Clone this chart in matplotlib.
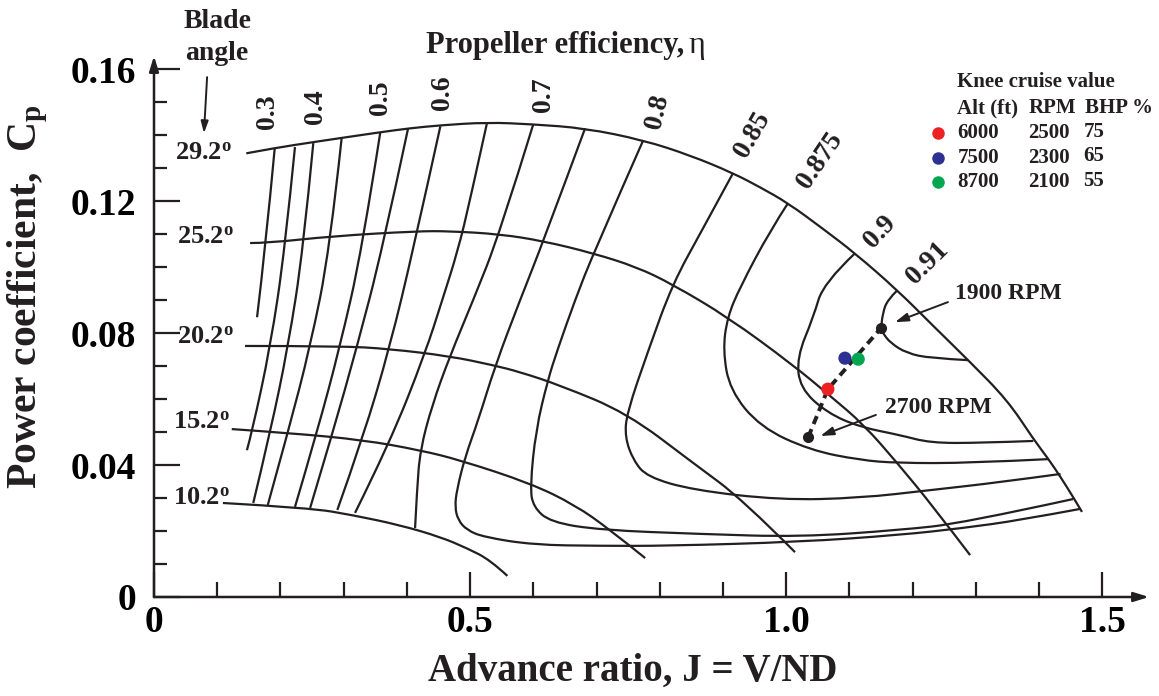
import numpy as np
import matplotlib.pyplot as plt
from matplotlib.ticker import FixedLocator
from matplotlib.path import Path
from matplotlib.patches import PathPatch

plt.rcParams['font.family'] = 'Liberation Serif'
plt.rcParams['font.weight'] = 'bold'
plt.rcParams['mathtext.fontset'] = 'custom'
plt.rcParams['mathtext.rm'] = 'Liberation Serif:bold'
plt.rcParams['mathtext.bf'] = 'Liberation Serif:bold'
plt.rcParams['mathtext.it'] = 'Liberation Serif:bold:italic'

#%% blade angle lines (J, Cp)

# 29.2 deg line, carried on as the outer boundary
env_J = [0.146, 0.191, 0.252, 0.358, 0.405, 0.453, 0.527, 0.600, 0.682, 0.774, 0.848, 0.916,
         0.959, 1.003, 1.057, 1.109, 1.176, 1.233, 1.288, 1.350, 1.391, 1.415, 1.434, 1.454, 1.468]
env_Cp = [0.1345, 0.1361, 0.1379, 0.1409, 0.1421, 0.1430, 0.1439, 0.1433, 0.1421, 0.1385, 0.1339, 0.1285,
          0.1242, 0.1194, 0.1118, 0.1042, 0.0930, 0.0821, 0.0718, 0.0597, 0.0479, 0.0418, 0.0364, 0.0303, 0.0258]

b25_J = [0.152, 0.179, 0.283, 0.416, 0.468, 0.547, 0.616, 0.695, 0.764, 0.820, 0.908, 1.011, 1.070,
         1.122, 1.176, 1.233, 1.291]
b25_Cp = [0.1073, 0.1073, 0.1094, 0.1109, 0.1109, 0.1100, 0.1079, 0.1042, 0.1000, 0.0948, 0.0848, 0.0703,
          0.0609, 0.0524, 0.0406, 0.0273, 0.0127]

b20_J = [0.144, 0.294, 0.373, 0.468, 0.536, 0.579, 0.642, 0.748, 0.853, 0.932, 1.014]
b20_Cp = [0.0761, 0.0761, 0.0752, 0.0730, 0.0703, 0.0682, 0.0642, 0.0558, 0.0406, 0.0294, 0.0136]

b15_J = [0.123, 0.215, 0.331, 0.421, 0.484, 0.595, 0.666, 0.722, 0.777]
b15_Cp = [0.0509, 0.0497, 0.0476, 0.0445, 0.0415, 0.0345, 0.0279, 0.0203, 0.0118]

b10_J = [0.109, 0.247, 0.315, 0.389, 0.453, 0.495, 0.532, 0.559]
b10_Cp = [0.0285, 0.0270, 0.0248, 0.0218, 0.0182, 0.0148, 0.0112, 0.0064]

blade_names = ['29.2', '25.2', '20.2', '15.2', '10.2']

#%% efficiency contours

e30_J = [0.191, 0.176, 0.163]
e30_Cp = [0.1361, 0.1052, 0.0848]
e35_J = [0.223, 0.207, 0.184, 0.155, 0.147]
e35_Cp = [0.1364, 0.1052, 0.0758, 0.0500, 0.0445]
e40_J = [0.252, 0.236, 0.212, 0.184, 0.157]
e40_Cp = [0.1376, 0.1052, 0.0758, 0.0500, 0.0285]
e45_J = [0.297, 0.278, 0.247, 0.212, 0.180]
e45_Cp = [0.1394, 0.1052, 0.0758, 0.0500, 0.0279]
e50_J = [0.358, 0.329, 0.294, 0.258, 0.223]
e50_Cp = [0.1409, 0.1052, 0.0758, 0.0500, 0.0273]
e55_J = [0.402, 0.361, 0.321, 0.283, 0.247]
e55_Cp = [0.1421, 0.1052, 0.0758, 0.0500, 0.0270]
e60_J = [0.453, 0.410, 0.373, 0.331, 0.290]
e60_Cp = [0.1427, 0.1052, 0.0758, 0.0485, 0.0264]
e65_J = [0.527, 0.500, 0.481, 0.456, 0.429, 0.373, 0.318]
e65_Cp = [0.1439, 0.1203, 0.1052, 0.0900, 0.0739, 0.0467, 0.0255]
e70_J = [0.600, 0.547, 0.505, 0.468, 0.440, 0.421, 0.416, 0.413]
e70_Cp = [0.1433, 0.1103, 0.0900, 0.0730, 0.0582, 0.0445, 0.0324, 0.0209]
e75_J = [0.682, 0.616, 0.579, 0.540, 0.513, 0.492, 0.479, 0.476, 0.481, 0.495, 0.521, 0.600, 0.706,
         0.812, 1.022, 1.180, 1.280, 1.370, 1.465]
e75_Cp = [0.1421, 0.1079, 0.0900, 0.0703, 0.0536, 0.0424, 0.0324, 0.0273, 0.0233, 0.0203, 0.0182, 0.0158,
          0.0155, 0.0155, 0.0167, 0.0188, 0.0209, 0.0233, 0.0267]
e80_J = [0.774, 0.695, 0.666, 0.638, 0.623, 0.604, 0.595, 0.600, 0.627, 0.706, 0.864, 1.022, 1.180,
         1.280, 1.454]
e80_Cp = [0.1385, 0.1042, 0.0900, 0.0748, 0.0658, 0.0506, 0.0333, 0.0273, 0.0227, 0.0203, 0.0191, 0.0182,
          0.0203, 0.0224, 0.0297]
e85_J = [0.916, 0.867, 0.820, 0.782, 0.748, 0.745, 0.758, 0.780, 0.853, 0.991, 1.117, 1.228, 1.339, 1.434]
e85_Cp = [0.1285, 0.1112, 0.0948, 0.0748, 0.0558, 0.0485, 0.0415, 0.0364, 0.0324, 0.0294, 0.0300, 0.0324,
          0.0348, 0.0373]
e875_J = [1.003, 0.975, 0.927, 0.907, 0.900, 0.911, 0.959, 1.038, 1.117, 1.176, 1.291, 1.415]
e875_Cp = [0.1194, 0.1112, 0.0939, 0.0848, 0.0748, 0.0627, 0.0515, 0.0445, 0.0415, 0.0406, 0.0406, 0.0418]
e90_J = [1.109, 1.059, 1.043, 1.017, 1.022, 1.065, 1.117, 1.180, 1.228, 1.307, 1.391]
e90_Cp = [0.1042, 0.0952, 0.0848, 0.0727, 0.0633, 0.0558, 0.0515, 0.0491, 0.0467, 0.0467, 0.0473]
e91_J = [1.176, 1.160, 1.153, 1.150, 1.153, 1.165, 1.191, 1.228, 1.288]
e91_Cp = [0.0930, 0.0900, 0.0861, 0.0815, 0.0800, 0.0770, 0.0739, 0.0724, 0.0718]

eff_names = ['0.3', '0.4', '0.5', '0.6', '0.7', '0.8', '0.85', '0.875', '0.9', '0.91']

#%% cruise line and knee points

rpm_J = [1.035, 1.066, 1.150]     # 2700 rpm -> 1900 rpm
rpm_Cp = [0.0485, 0.0630, 0.0815]

knee_J = [1.066, 1.093, 1.114]
knee_Cp = [0.0630, 0.0724, 0.0721]
knee_alt = ['6000', '7500', '8700']
knee_rpm = ['2500', '2300', '2100']
knee_bhp = ['75', '65', '55']
knee_col = ['#ed2024', '#2e3192', '#00a650']

#%%

ink = '#231f20'


def curve(ax, xs, ys, **kw):
    # smooth path with the read points as quadratic control points
    pts = list(zip(xs, ys))
    verts = [pts[0]]
    codes = [Path.MOVETO]
    for i in range(1, len(pts) - 1):
        if i == len(pts) - 2:
            end = pts[-1]
        else:
            end = ((pts[i][0] + pts[i + 1][0]) / 2, (pts[i][1] + pts[i + 1][1]) / 2)
        verts += [pts[i], end]
        codes += [Path.CURVE3, Path.CURVE3]
    if len(pts) == 2:
        verts.append(pts[1])
        codes.append(Path.LINETO)
    ax.add_patch(PathPatch(Path(verts, codes), fill=False, **kw))


fig = plt.figure(figsize=(11.59, 6.96), dpi=100)
ax = fig.add_axes([154/1159, 99/696, 995/1159, 541/696])
ax.set_xlim(0, 1.574)
ax.set_ylim(0, 0.164)

curves = [(env_J, env_Cp), (b25_J, b25_Cp), (b20_J, b20_Cp), (b15_J, b15_Cp), (b10_J, b10_Cp),
          (e30_J, e30_Cp), (e35_J, e35_Cp), (e40_J, e40_Cp), (e45_J, e45_Cp), (e50_J, e50_Cp),
          (e55_J, e55_Cp), (e60_J, e60_Cp), (e65_J, e65_Cp), (e70_J, e70_Cp), (e75_J, e75_Cp),
          (e80_J, e80_Cp), (e85_J, e85_Cp), (e875_J, e875_Cp), (e90_J, e90_Cp), (e91_J, e91_Cp)]
for cj, cc in curves:
    curve(ax, cj, cc, edgecolor=ink, lw=1.6, joinstyle='round', capstyle='butt')

# cruise line
ax.plot(rpm_J, rpm_Cp, color=ink, lw=2.8, ls=(0, (2.2, 1.4)))
ax.plot([rpm_J[0], rpm_J[-1]], [rpm_Cp[0], rpm_Cp[-1]], 'o', color=ink, ms=7, ls='none')
ax.scatter(knee_J, knee_Cp, s=90, c=knee_col, zorder=5, edgecolors='none')

# axes with arrows
for s in ax.spines.values():
    s.set_visible(False)
arr = dict(arrowstyle='-|>,head_length=0.9,head_width=0.28', lw=1.8, color=ink, shrinkA=0, shrinkB=0)
ax.annotate('', xy=(1, 0), xytext=(0, 0), xycoords='axes fraction', arrowprops=arr)
ax.annotate('', xy=(0, 1), xytext=(0, 0), xycoords='axes fraction', arrowprops=arr)

ax.xaxis.set_major_locator(FixedLocator([0, 0.5, 1.0, 1.5]))
ax.xaxis.set_minor_locator(FixedLocator([0.1, 0.2, 0.3, 0.4, 0.6, 0.7, 0.8, 0.9, 1.1, 1.2, 1.3, 1.4]))
ax.set_xticklabels(['0', '0.5', '1.0', '1.5'])
ax.yaxis.set_major_locator(FixedLocator([0, 0.04, 0.08, 0.12, 0.16]))
ax.yaxis.set_minor_locator(FixedLocator([k / 100 for k in range(1, 16) if k % 4 != 0]))
ax.set_yticklabels(['0', '0.04', '0.08', '0.12', '0.16'])
ax.tick_params(axis='x', which='major', direction='in', length=18, width=1.6, color=ink,
               labelsize=27, pad=6)
ax.tick_params(axis='x', which='minor', direction='in', length=11, width=1.6, color=ink)
ax.tick_params(axis='y', which='major', direction='in', length=19, width=1.6, color=ink,
               labelsize=27, pad=13)
ax.tick_params(axis='y', which='minor', direction='in', length=9.5, width=1.6, color=ink)

ax.text(0.481, -0.155, 'Advance ratio, J = V/ND', transform=ax.transAxes, fontsize=28,
        ha='center', va='baseline', color=ink)
ax.text(-0.127, 0.555, r'Power coefficient,  C$_{\mathbf{p}}$', transform=ax.transAxes, fontsize=30,
        rotation=90, ha='center', va='center', color=ink)

# blade angle labels
blade_pos = [(0.033, 0.1345), (0.036, 0.1091), (0.036, 0.0788), (0.030, 0.0530), (0.030, 0.0300)]
for name, (tx, ty) in zip(blade_names, blade_pos):
    ax.text(tx, ty, name + r'$^{\mathbf{o}}$', fontsize=19, ha='left', va='center', color=ink)
ax.text(0.100, 0.1724, 'Blade', fontsize=20, ha='center', va='baseline', color=ink)
ax.text(0.100, 0.1627, 'angle', fontsize=20, ha='center', va='baseline', color=ink)
ax.annotate('', xy=(0.079, 0.1406), xytext=(0.084, 0.1576),
            arrowprops=dict(arrowstyle='-|>,head_length=0.7,head_width=0.22', lw=1.4, color=ink,
                            shrinkA=0, shrinkB=0))

# efficiency labels
eff_pos = [(0.180, 0.1470), (0.255, 0.1485), (0.358, 0.1515), (0.457, 0.1530), (0.616, 0.1524),
           (0.797, 0.1470), (0.946, 0.1400), (1.054, 0.1324), (1.149, 0.1106), (1.223, 0.1012)]
eff_rot = [90, 90, 90, 90, 90, 77, 60, 56, 47, 45]
for name, (tx, ty), r in zip(eff_names, eff_pos, eff_rot):
    ax.text(tx, ty, name, fontsize=20, rotation=r, rotation_mode='anchor',
            ha='center', va='center', color=ink)
ax.text(0.839, 0.1648, 'Propeller efficiency,', fontsize=22, ha='right', va='baseline', color=ink)
ax.text(0.846, 0.1648, 'η', fontsize=23, fontweight='normal', ha='left', va='baseline', color=ink)

# rpm notes
ax.text(1.267, 0.0921, '1900 RPM', fontsize=17, ha='left', va='center', color=ink)
ax.text(1.157, 0.0573, '2700 RPM', fontsize=17, ha='left', va='center', color=ink)
sarr = dict(arrowstyle='-|>,head_length=0.8,head_width=0.25', lw=1.4, color=ink, shrinkA=0, shrinkB=0)
ax.annotate('', xy=(1.172, 0.0833), xytext=(1.256, 0.0894), arrowprops=sarr)
ax.annotate('', xy=(1.054, 0.0488), xytext=(1.142, 0.0552), arrowprops=sarr)

# knee cruise table
ax.text(1.271, 0.1561, 'Knee cruise value', fontsize=15, ha='left', va='center', color=ink)
ax.text(1.271, 0.1482, 'Alt (ft)', fontsize=15, ha='left', va='center', color=ink)
ax.text(1.383, 0.1482, 'RPM', fontsize=15, ha='left', va='center', color=ink)
ax.text(1.472, 0.1482, 'BHP %', fontsize=15, ha='left', va='center', color=ink)
for i in range(len(knee_alt)):
    ty = 0.1406 - i * 0.0074
    ax.plot(1.241, ty, 'o', color=knee_col[i], ms=9, mec='none')
    ax.text(1.271, ty, knee_alt[i], fontsize=15, ha='left', va='center', color=ink)
    ax.text(1.383, ty, knee_rpm[i], fontsize=15, ha='left', va='center', color=ink)
    ax.text(1.470, ty + 0.0004, knee_bhp[i], fontsize=15, ha='left', va='center', color=ink)

fig.savefig('out.png', dpi=100)
